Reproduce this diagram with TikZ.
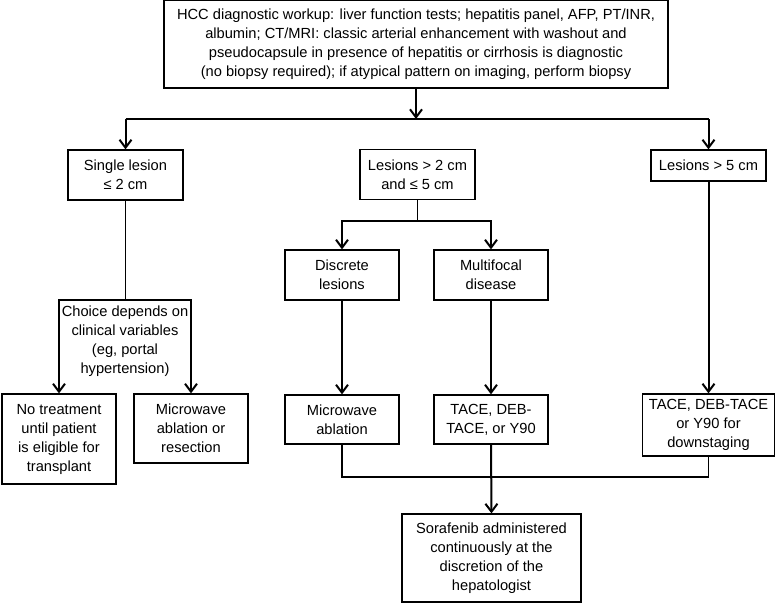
\documentclass[tikz,border=0pt]{standalone}
\usepackage{fontspec}
\setmainfont{Liberation Sans}
\usepackage{tikz}
\usetikzlibrary{arrows.meta}

\begin{document}
\begin{tikzpicture}[x=0.75pt,y=-0.75pt,font=\fontsize{11}{14.25}\selectfont,
  box/.style={draw,line width=0.9pt,align=center,inner sep=0pt},
  arr/.style={line width=1.5pt,-{Straight Barb[length=6pt,width=9pt]}},
  link/.style={line width=0.8pt}]
\useasboundingbox (0,0) rectangle (775,603);
\node[box,minimum width=378pt,minimum height=66pt] (workup) at (416,44) {HCC diagnostic workup: liver function tests; hepatitis panel, AFP, PT/INR,\\albumin; CT/MRI: classic arterial enhancement with washout and\\pseudocapsule in presence of hepatitis or cirrhosis is diagnostic\\(no biopsy required); if atypical pattern on imaging, perform biopsy};
\node[box,minimum width=86.25pt,minimum height=37.5pt] (single) at (125.5,175) {Single lesion\\≤ 2 cm};
\node[box,minimum width=86.25pt,minimum height=37.5pt] (mid) at (417.5,174.5) {Lesions > 2 cm\\and ≤ 5 cm};
\node[box,minimum width=86.25pt,minimum height=23.25pt] (large) at (708.5,165.5) {Lesions > 5 cm};
\node[box,minimum width=85.5pt,minimum height=37.5pt] (discrete) at (342,275) {Discrete\\lesions};
\node[box,minimum width=85.5pt,minimum height=37.5pt] (multi) at (491,275) {Multifocal\\disease};
\node[align=center] (choice) at (125,341.5) {Choice depends on\\clinical variables\\(eg, portal\\hypertension)};
\node[box,minimum width=85.5pt,minimum height=67.5pt] (notreat) at (59,439) {No treatment\\until patient\\is eligible for\\transplant};
\node[box,minimum width=85.5pt,minimum height=51.75pt] (mwres) at (191,428.5) {Microwave\\ablation or\\resection};
\node[box,minimum width=85.5pt,minimum height=36.75pt] (mwabl) at (342,419.5) {Microwave\\ablation};
\node[box,minimum width=85.5pt,minimum height=36.75pt] (tace) at (491,419.5) {TACE, DEB-\\TACE, or Y90};
\node[box,minimum width=99pt,minimum height=46.5pt] (tacebig) at (708.5,425) {TACE, DEB-TACE\\or Y90 for\\downstaging};
\node[box,minimum width=134.25pt,minimum height=66pt] (soraf) at (491.5,558) {Sorafenib administered\\continuously at the\\discretion of the\\hepatologist};
\coordinate (split) at (416,119);
\coordinate (sj) at (125.5,300);
\coordinate (mj) at (417.5,221);
\coordinate (merge) at (491,477);
\draw[arr] (workup.south) -- (split);
\draw[link] (single.north |- split) -- (large.north |- split);
\draw[arr] (single.north |- split) -- (single.north);
\draw[arr] (large.north |- split) -- (large.north);
\draw[link] (single.south) -- (sj);
\draw[arr] (sj) -| (notreat.north);
\draw[arr] (sj) -| (mwres.north);
\draw[link] (mid.south) -- (mj);
\draw[arr] (mj) -| (discrete.north);
\draw[arr] (mj) -| (multi.north);
\draw[arr] (discrete.south) -- (mwabl.north);
\draw[arr] (multi.south) -- (tace.north);
\draw[arr] (large.south) -- (tacebig.north);
\draw[link] (mwabl.south) |- (merge) -| (tacebig.south);
\draw[arr] (tace.south) -- (soraf.north);
\end{tikzpicture}
\end{document}
